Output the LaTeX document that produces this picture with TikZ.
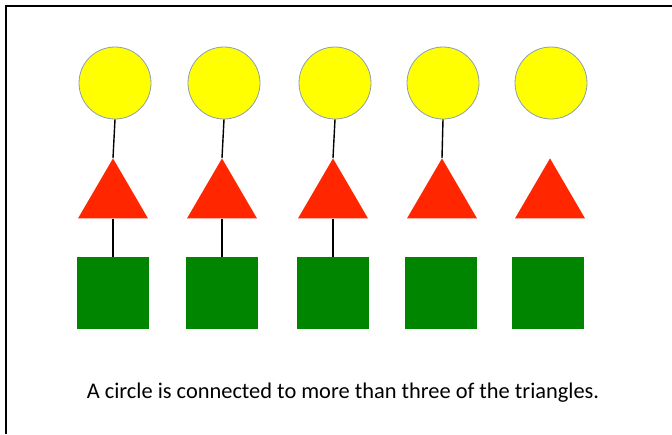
\documentclass[tikz,border=0pt]{standalone}
\usepackage{fontspec}
\setmainfont{Carlito}
\usetikzlibrary{shapes.geometric}
\definecolor{cyel}{HTML}{FFFF00}
\definecolor{cyedge}{HTML}{8A9FB5}
\definecolor{cred}{HTML}{FF2600}
\definecolor{cgreen}{HTML}{008500}
\begin{document}
\begin{tikzpicture}[x=1pt,y=-1pt,
  circ/.style={circle,fill=cyel,draw=cyedge,line width=0.8pt,minimum size=72pt,inner sep=0pt},
  tri/.style={isosceles triangle,isosceles triangle apex angle=60,shape border rotate=90,fill=cred,inner sep=0pt,minimum height=60pt,minimum width=70pt,isosceles triangle stretches},
  sq/.style={rectangle,fill=cgreen,minimum width=72pt,minimum height=72pt,inner sep=0pt},
  link/.style={line width=1.4pt,black}]
\useasboundingbox (0,0) rectangle (672,434);
\fill[white] (0,0) rectangle (672,434);
\draw[line width=2pt] (6,434) -- (6,6) -- (672,6);
\foreach \i/\cx/\tx/\sx in {1/115/113/113,2/224/222/222,3/335/333/333,4/443/442/441,5/551/550/548}{
  \node[circ] (c\i) at (\cx,83) {};
  \node[tri,anchor=apex] (t\i) at (\tx,158) {};
  \node[sq] (s\i) at (\sx,293) {};
}
\draw[link] (c1.south) -- (t1.apex);
\draw[link] (c2.south) -- (t2.apex);
\draw[link] (c3.south) -- (t3.apex);
\draw[link] (c4.south) -- (t4.apex);
\draw[link] (t1.south) -- (s1.north);
\draw[link] (t2.south) -- (s2.north);
\draw[link] (t3.south) -- (s3.north);
\node[font=\fontsize{22.4}{26}\selectfont,anchor=base,inner sep=0pt] (cap) at (343,398) {A circle is connected to more than three of the triangles.};
\end{tikzpicture}
\end{document}
